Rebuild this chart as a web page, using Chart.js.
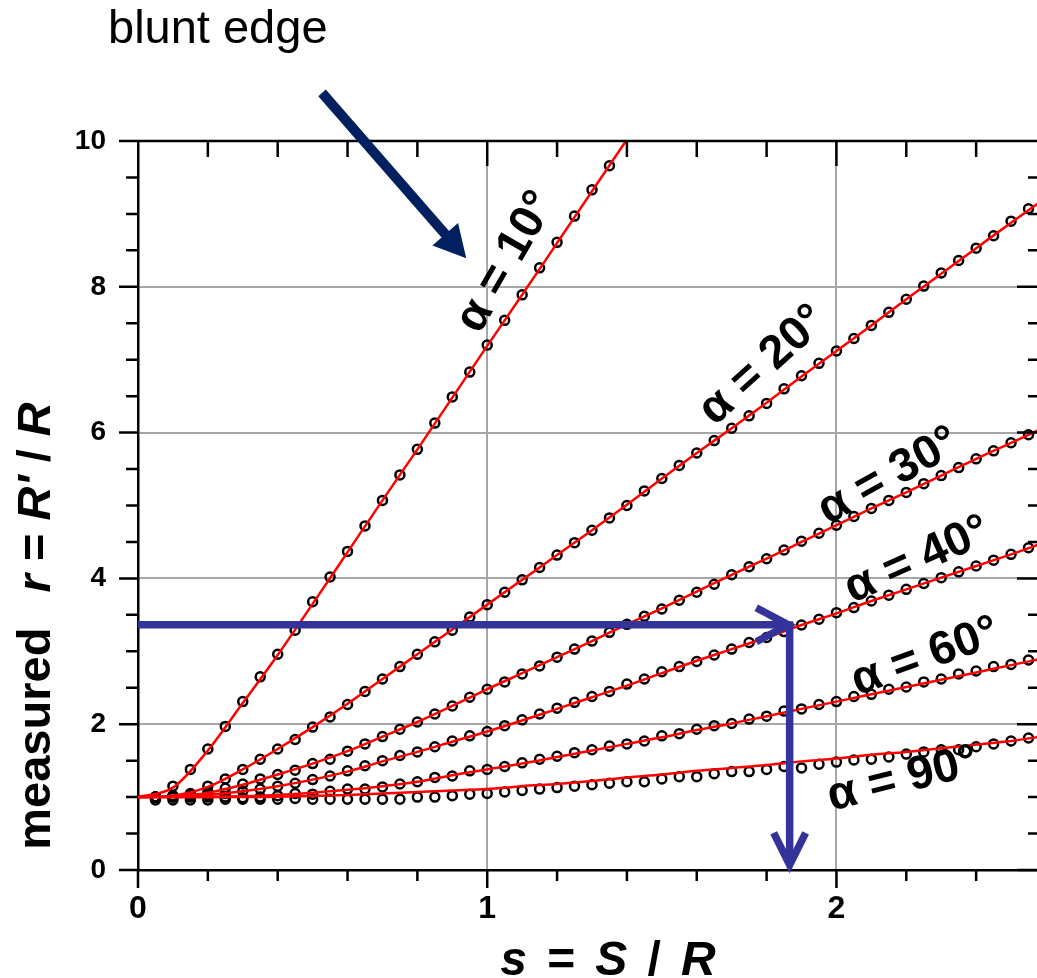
<!DOCTYPE html>
<html>
<head>
<meta charset="utf-8">
<script src="https://cdn.jsdelivr.net/npm/chart.js@4.4.0/dist/chart.umd.min.js"></script>
<style>
  html, body { margin: 0; padding: 0; background: #fff; overflow: hidden; }
  #wrap { width: 1046px; height: 978px; }
</style>
</head>
<body>
<div id="wrap"><canvas id="ringChart" width="1046" height="978"></canvas></div>
<script>
const FONT = "'Liberation Sans', Arial, Helvetica, sans-serif";

// measured points, s = 0.05 ... 2.55
const sMeasured = [0.05, 0.10, 0.15, 0.20, 0.25, 0.30, 0.35, 0.40, 0.45, 0.50,
  0.55, 0.60, 0.65, 0.70, 0.75, 0.80, 0.85, 0.90, 0.95, 1.00,
  1.05, 1.10, 1.15, 1.20, 1.25, 1.30, 1.35, 1.40, 1.45, 1.50,
  1.55, 1.60, 1.65, 1.70, 1.75, 1.80, 1.85, 1.90, 1.95, 2.00,
  2.05, 2.10, 2.15, 2.20, 2.25, 2.30, 2.35, 2.40, 2.45, 2.50, 2.55];

const r10 = [1.00, 1.15, 1.38, 1.66, 1.97, 2.31, 2.65, 2.96, 3.29, 3.68,
  4.02, 4.37, 4.72, 5.07, 5.42, 5.77, 6.13, 6.49, 6.83, 7.20,
  7.54, 7.89, 8.26, 8.61, 8.97, 9.33, 9.66];
const r20 = [1.00, 1.02, 1.05, 1.15, 1.25, 1.38, 1.52, 1.66, 1.79, 1.96,
  2.10, 2.27, 2.45, 2.62, 2.79, 2.96, 3.13, 3.29, 3.47, 3.64,
  3.81, 3.98, 4.15, 4.32, 4.49, 4.66, 4.83, 5.00, 5.20, 5.37,
  5.55, 5.72, 5.89, 6.06, 6.23, 6.40, 6.60, 6.78, 6.95, 7.12,
  7.29, 7.47, 7.65, 7.83, 8.01, 8.19, 8.36, 8.53, 8.70, 8.90, 9.07];
const r30 = [1.00, 1.01, 1.03, 1.07, 1.12, 1.18, 1.25, 1.31, 1.37, 1.46,
  1.52, 1.63, 1.73, 1.83, 1.93, 2.03, 2.14, 2.25, 2.37, 2.48,
  2.58, 2.69, 2.80, 2.92, 3.03, 3.14, 3.26, 3.37, 3.48, 3.58,
  3.70, 3.81, 3.92, 4.05, 4.16, 4.27, 4.39, 4.51, 4.62, 4.73,
  4.85, 4.96, 5.07, 5.18, 5.30, 5.41, 5.52, 5.64, 5.75, 5.86, 5.97];
const r40 = [1.00, 1.00, 1.01, 1.03, 1.05, 1.08, 1.11, 1.15, 1.19, 1.24,
  1.29, 1.36, 1.43, 1.50, 1.57, 1.62, 1.69, 1.77, 1.84, 1.90,
  1.98, 2.06, 2.14, 2.22, 2.30, 2.38, 2.45, 2.55, 2.62, 2.72,
  2.79, 2.86, 2.95, 3.03, 3.12, 3.19, 3.27, 3.36, 3.44, 3.53,
  3.60, 3.69, 3.77, 3.85, 3.93, 4.01, 4.09, 4.17, 4.25, 4.33, 4.42];
const r60 = [1.00, 1.00, 1.00, 1.00, 1.00, 0.99, 1.00, 1.02, 1.05, 1.04,
  1.08, 1.11, 1.11, 1.14, 1.18, 1.21, 1.27, 1.29, 1.36, 1.38,
  1.42, 1.47, 1.52, 1.56, 1.61, 1.65, 1.70, 1.73, 1.77, 1.84,
  1.87, 1.93, 1.98, 2.01, 2.07, 2.11, 2.18, 2.21, 2.27, 2.31,
  2.38, 2.41, 2.48, 2.51, 2.58, 2.62, 2.69, 2.73, 2.79, 2.82, 2.88];
const r90 = [0.96, 0.96, 0.96, 0.96, 0.97, 0.97, 0.97, 0.97, 0.98, 0.97,
  0.97, 0.97, 0.97, 0.97, 0.97, 1.00, 1.00, 1.02, 1.04, 1.05,
  1.07, 1.09, 1.11, 1.13, 1.15, 1.17, 1.19, 1.21, 1.21, 1.25,
  1.28, 1.28, 1.32, 1.35, 1.35, 1.38, 1.42, 1.40, 1.45, 1.48,
  1.51, 1.52, 1.55, 1.59, 1.62, 1.65, 1.65, 1.69, 1.73, 1.77, 1.81];

// model curves, s = 0 ... 2.6
const sModel = [0.0, 0.1, 0.2, 0.3, 0.4, 0.5, 0.6, 0.7, 0.8, 0.9,
  1.0, 1.1, 1.2, 1.3, 1.4, 1.5, 1.6, 1.7, 1.8, 1.9,
  2.0, 2.1, 2.2, 2.3, 2.4, 2.5, 2.6];

const m10 = [1.00, 1.13, 1.64, 2.29, 2.95, 3.65, 4.36, 5.07, 5.77, 6.48,
  7.19, 7.89, 8.60, 9.31, 10.02, 10.72];
const m20 = [1.00, 1.02, 1.14, 1.38, 1.66, 1.96, 2.28, 2.62, 2.96, 3.30,
  3.64, 3.98, 4.32, 4.66, 5.01, 5.37, 5.72, 6.06, 6.41, 6.77,
  7.12, 7.47, 7.83, 8.18, 8.53, 8.88, 9.22];
const m30 = [1.00, 1.01, 1.06, 1.17, 1.31, 1.46, 1.63, 1.83, 2.03, 2.25,
  2.48, 2.70, 2.92, 3.14, 3.37, 3.59, 3.82, 4.05, 4.27, 4.50,
  4.73, 4.96, 5.18, 5.41, 5.64, 5.86, 6.08];
const m40 = [1.00, 1.00, 1.03, 1.08, 1.15, 1.24, 1.35, 1.49, 1.62, 1.76,
  1.90, 2.05, 2.21, 2.37, 2.53, 2.70, 2.87, 3.03, 3.19, 3.36,
  3.52, 3.69, 3.85, 4.01, 4.17, 4.33, 4.50];
const m60 = [1.00, 1.00, 1.00, 1.01, 1.03, 1.06, 1.10, 1.15, 1.21, 1.30,
  1.38, 1.46, 1.55, 1.64, 1.73, 1.82, 1.92, 2.01, 2.11, 2.21,
  2.31, 2.41, 2.51, 2.61, 2.71, 2.81, 2.91];
const m90 = [1.00, 1.00, 1.00, 1.00, 1.005, 1.015, 1.03, 1.05, 1.07, 1.09,
  1.11, 1.15, 1.18, 1.22, 1.27, 1.31, 1.36, 1.40, 1.44, 1.49,
  1.53, 1.58, 1.62, 1.67, 1.72, 1.77, 1.84];

const angleNames = ["α = 10°", "α = 20°", "α = 30°", "α = 40°", "α = 60°", "α = 90°"];
const measuredSets = [r10, r20, r30, r40, r60, r90];
const modelSets = [m10, m20, m30, m40, m60, m90];

const xTicks = [0, 1, 2];
const yTicks = [0, 2, 4, 6, 8, 10];

// curve labels: anchor in data units and rotation in degrees
const curveLabels = [
  { text: angleNames[0], s: 1.055, r: 8.34, rot: -60 },
  { text: angleNames[1], s: 1.790, r: 6.92, rot: -42 },
  { text: angleNames[2], s: 2.150, r: 5.40, rot: -29 },
  { text: angleNames[3], s: 2.232, r: 4.25, rot: -24 },
  { text: angleNames[4], s: 2.255, r: 2.92, rot: -20 },
  { text: angleNames[5], s: 2.190, r: 1.24, rot: -14 }
];

const pts = (xs, ys) => ys.map((v, i) => ({ x: xs[i], y: v }));

const datasets = [];
modelSets.forEach((ys, i) => {
  datasets.push({
    label: angleNames[i] + " model",
    data: pts(sModel, ys),
    showLine: true,
    pointRadius: 0,
    borderColor: "#ff0000",
    borderWidth: 2.5,
    cubicInterpolationMode: "monotone",
    clip: 0,
    order: 0
  });
});
measuredSets.forEach((ys, i) => {
  datasets.push({
    label: angleNames[i],
    data: pts(sMeasured, ys),
    showLine: false,
    pointStyle: "circle",
    pointRadius: 4.5,
    pointBorderWidth: 2.5,
    pointBorderColor: "#000",
    pointBackgroundColor: "rgba(0,0,0,0)",
    order: 1
  });
});

// box with inward ticks on top/right, outward on left/bottom
const frameTicks = {
  id: "frameTicks",
  afterDatasetsDraw(chart) {
    const { ctx, chartArea: a, scales: { x, y } } = chart;
    ctx.save();
    ctx.strokeStyle = "#000";
    ctx.lineWidth = 2.5;
    ctx.beginPath();
    ctx.moveTo(a.left, a.top); ctx.lineTo(a.right, a.top);
    ctx.moveTo(a.right, a.top); ctx.lineTo(a.right, a.bottom);
    for (let i = 0; i <= 13; i++) {
      const px = x.getPixelForValue(i * 0.2);
      if (px > a.right + 1) continue;
      const major = i % 5 === 0;
      ctx.moveTo(px, a.bottom); ctx.lineTo(px, a.bottom + (major ? 18 : 11));
      if (i > 0) { ctx.moveTo(px, a.top); ctx.lineTo(px, a.top + (major ? 25 : 16)); }
    }
    for (let j = 0; j <= 20; j++) {
      const py = y.getPixelForValue(j * 0.5);
      const major = j % 4 === 0;
      ctx.moveTo(a.left - (major ? 19 : 12), py); ctx.lineTo(a.left, py);
      ctx.moveTo(a.right - (major ? 22 : 11), py); ctx.lineTo(a.right, py);
    }
    ctx.stroke();
    ctx.restore();
  }
};

// mixed upright/italic text centred on the origin; gap entries are in em
function drawRuns(ctx, runs, size) {
  const fontFor = r => (r.italic ? "italic " : "") + "bold " + size + "px " + FONT;
  let total = 0;
  runs.forEach(r => {
    if (r.gap) { r.w = r.gap * size; } else { ctx.font = fontFor(r); r.w = ctx.measureText(r.text).width; }
    total += r.w;
  });
  let cx = -total / 2;
  ctx.textAlign = "left";
  runs.forEach(r => {
    if (!r.gap) { ctx.font = fontFor(r); ctx.fillText(r.text, cx, 0); }
    cx += r.w;
  });
}

function arrowHeadOpen(ctx, tx, ty, dx, dy, len, half) {
  ctx.beginPath();
  ctx.moveTo(tx - dx * len - dy * half, ty - dy * len + dx * half);
  ctx.lineTo(tx, ty);
  ctx.lineTo(tx - dx * len + dy * half, ty - dy * len - dx * half);
  ctx.stroke();
}

const notes = {
  id: "notes",
  afterDraw(chart) {
    const { ctx, scales: { x, y } } = chart;
    ctx.save();
    ctx.fillStyle = "#000";

    // curve labels
    ctx.font = "bold 47px " + FONT;
    ctx.textAlign = "center";
    ctx.textBaseline = "middle";
    curveLabels.forEach(l => {
      ctx.save();
      ctx.translate(x.getPixelForValue(l.s), y.getPixelForValue(l.r));
      ctx.rotate(l.rot * Math.PI / 180);
      ctx.fillText(l.text, 0, 0);
      ctx.restore();
    });

    // axis titles
    ctx.textBaseline = "alphabetic";
    ctx.save();
    ctx.translate(608, 975);
    drawRuns(ctx, [
      { text: "s", italic: true }, { gap: 0.42 }, { text: "=" }, { gap: 0.42 },
      { text: "S", italic: true }, { gap: 0.42 }, { text: "/" }, { gap: 0.42 },
      { text: "R", italic: true }
    ], 48);
    ctx.restore();

    ctx.save();
    ctx.translate(50, 626);
    ctx.rotate(-Math.PI / 2);
    drawRuns(ctx, [
      { text: "measured" }, { gap: 0.75 }, { text: "r", italic: true }, { text: " = " },
      { text: "R'", italic: true }, { text: " / " }, { text: "R", italic: true }
    ], 47);
    ctx.restore();

    // "blunt edge" callout
    ctx.font = "47px " + FONT;
    ctx.textAlign = "left";
    ctx.fillText("blunt edge", 108, 43);

    const x0 = x.getPixelForValue(0.527), y0 = y.getPixelForValue(10.66);
    const x1 = x.getPixelForValue(0.940), y1 = y.getPixelForValue(8.39);
    const len = Math.hypot(x1 - x0, y1 - y0);
    const ux = (x1 - x0) / len, uy = (y1 - y0) / len;
    ctx.strokeStyle = "#002060";
    ctx.fillStyle = "#002060";
    ctx.lineWidth = 10;
    ctx.beginPath();
    ctx.moveTo(x0, y0);
    ctx.lineTo(x1 - ux * 24, y1 - uy * 24);
    ctx.stroke();
    ctx.beginPath();
    ctx.moveTo(x1, y1);
    ctx.lineTo(x1 - ux * 32 - uy * 17, y1 - uy * 32 + ux * 17);
    ctx.lineTo(x1 - ux * 32 + uy * 17, y1 - uy * 32 - ux * 17);
    ctx.closePath();
    ctx.fill();

    // reading path: r -> s
    const rRead = 3.365, sRead = 1.866;
    const hy = y.getPixelForValue(rRead);
    const hx0 = x.getPixelForValue(0), hx1 = x.getPixelForValue(1.862);
    const vx = x.getPixelForValue(sRead), vy1 = y.getPixelForValue(0.07);
    ctx.strokeStyle = "#333399";
    ctx.lineWidth = 7.5;
    ctx.lineJoin = "miter";
    ctx.beginPath();
    ctx.moveTo(hx0, hy); ctx.lineTo(hx1, hy);
    ctx.moveTo(vx, hy - 3.5); ctx.lineTo(vx, vy1);
    ctx.stroke();
    arrowHeadOpen(ctx, hx1, hy, 1, 0, 32, 17);
    arrowHeadOpen(ctx, vx, vy1, 0, 1, 32, 16);

    ctx.restore();
  }
};

const canvas = document.getElementById("ringChart");
new Chart(canvas.getContext("2d"), {
  type: "scatter",
  data: { datasets },
  options: {
    responsive: false,
    animation: false,
    events: [],
    layout: { padding: { left: 38, top: 141, right: 2, bottom: 48 } },
    plugins: { legend: { display: false }, tooltip: { enabled: false } },
    scales: {
      x: {
        type: "linear",
        min: 0,
        max: 2.58,
        afterFit: s => { s.height = 60; },
        afterBuildTicks: s => { s.ticks = xTicks.map(v => ({ value: v })); },
        ticks: {
          includeBounds: false,
          color: "#000",
          padding: 20,
          font: { family: FONT, size: 32, weight: "bold" },
          callback: v => String(v)
        },
        grid: {
          drawTicks: false,
          lineWidth: 2,
          color: c => (c.tick && c.tick.value === 0 ? "rgba(0,0,0,0)" : "#a6a6a6")
        },
        border: { color: "#000", width: 2.5 }
      },
      y: {
        type: "linear",
        min: 0,
        max: 10,
        afterFit: s => { s.width = 100; },
        afterBuildTicks: s => { s.ticks = yTicks.map(v => ({ value: v })); },
        ticks: {
          color: "#000",
          padding: 32,
          font: { family: FONT, size: 28, weight: "bold" },
          callback: v => String(v)
        },
        grid: {
          drawTicks: false,
          lineWidth: 2,
          color: c => (c.tick && (c.tick.value === 0 || c.tick.value === 10) ? "rgba(0,0,0,0)" : "#a6a6a6")
        },
        border: { color: "#000", width: 2.5 }
      }
    }
  },
  plugins: [frameTicks, notes]
});
</script>
</body>
</html>
